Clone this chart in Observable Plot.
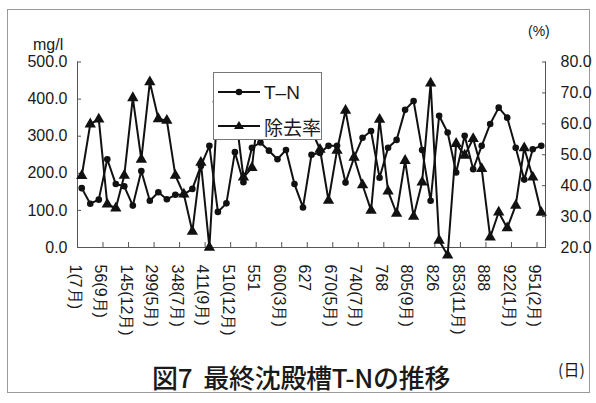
<!DOCTYPE html>
<html><head><meta charset="utf-8">
<script src="https://cdn.jsdelivr.net/npm/d3@7"></script>
<script src="https://cdn.jsdelivr.net/npm/@observablehq/plot@0.6"></script>
<style>
body{margin:0;background:#fff;}
#wrap{position:relative;width:596px;height:403px;background:#fff;overflow:hidden;font-family:'Liberation Sans',Arial,sans-serif;color:#1a1a1a;}
#frame{position:absolute;left:7px;top:9px;width:581px;height:382px;border:1px solid #9a9a9a;}
#chart{position:absolute;left:0;top:0;}
.lab{position:absolute;white-space:nowrap;line-height:1;}
#legend{position:absolute;left:213px;top:72px;width:107px;height:66px;border:1.5px solid #777;background:#fff;}
</style></head>
<body>
<div id="wrap">
  <div id="frame"></div>
  <div id="chart"></div>
  <div class="lab" style="left:33px;top:37px;font-size:16px;">mg/l</div>
  <div class="lab" style="left:528px;top:24px;font-size:14px;">(%)</div>
  <div id="legend">
    <svg width="107" height="66" style="position:absolute;left:0;top:0">
      <line x1="4" x2="46" y1="19" y2="19" stroke="#111" stroke-width="2"/>
      <circle cx="25" cy="19" r="3.3" fill="#111"/>
      <line x1="4" x2="46" y1="53" y2="53" stroke="#111" stroke-width="2"/>
      <path d="M25,48 L30,56 L20,56 Z" fill="#111"/>
    </svg>
    <div class="lab" style="left:50px;top:10px;font-size:19px;">T–N</div>
    <div class="lab" style="left:50px;top:44px;font-size:19px;font-family:'Noto Sans CJK JP';">除去率</div>
  </div>
  <div class="lab" style="left:152px;top:364px;font-size:26px;font-family:'Noto Sans CJK JP';font-weight:500;letter-spacing:-0.3px;">図7&nbsp;&nbsp;最終沈殿槽T-Nの推移</div>
  <div class="lab" style="left:558px;top:361px;font-size:16px;font-family:'Noto Sans CJK JP';">(日)</div>
</div>
<script>
const labels = ["1(7月)","56(9月)","145(12月)","299(5月)","348(7月)","411(9月)","510(12月)","551","600(3月)","627","670(5月)","740(7月)","768","805(9月)","826","853(11月)","888","922(1月)","951(2月)"];
const tn = [160,118,129,238,171,165,113,206,126,149,130,142,143,158,220,274,96,119,257,176,269,283,261,238,263,171,108,250,255,274,274,175,242,296,314,188,269,290,371,395,263,126,355,310,202,301,211,274,333,377,350,269,183,265,274];
const rate = [43.2,59.9,61.5,34.0,32.7,43.3,68.4,48.5,73.5,61.6,61.1,43.3,37.2,25.2,47.5,20.0,68,62,65,42.7,45.8,70,60,66,58,70,63,58,51.7,35.2,51.4,64.3,49.1,40.2,32.0,61.4,38.2,31.0,48.1,30.0,41.1,73.1,22.3,17.5,53.6,49.8,55.2,45.5,23.3,31.4,26.3,33.6,52.2,42.7,31.3];
const leftTicks = [0,100,200,300,400,500];
const rightTicks = [20,30,40,50,60,70,80];
const rightMin = 20, rightMax = 80;

const data = tn.map((v,i)=>({i, tn:v, rate:rate[i]}));
const toY = r => (r - rightMin) / (rightMax - rightMin) * 500;
const n = tn.length;

const chart = Plot.plot({
  width:596, height:350,
  marginLeft:77, marginRight:51, marginTop:61.5, marginBottom:103,
  x:{domain:[-0.5, n-0.5], axis:null},
  y:{domain:[0,500], axis:null},
  style:{fontFamily:"'Liberation Sans', Arial, sans-serif", fontSize:"16px", color:"#1a1a1a", background:"transparent", overflow:"visible"},
  marks:[
    Plot.ruleY([0], {stroke:"#555"}),
    Plot.ruleX([-0.5, n-0.5], {stroke:"#555", y1:0, y2:500}),
    Plot.axisY({anchor:"left", label:null, ticks:leftTicks, tickFormat:d=>d.toFixed(1), tickSize:-4, tickPadding:14, stroke:"#555", fontSize:16}),
    Plot.axisY({anchor:"right", label:null, ticks:rightTicks.map(toY), tickFormat:d=>(rightMin + d/500*(rightMax-rightMin)).toFixed(1), tickSize:-4, tickPadding:19, stroke:"#555", fontSize:16}),
    Plot.axisX({label:null, ticks:d3.range(-0.5, n-1, 3), tickFormat:()=>"", tickSize:-5, stroke:"#555"}),
    Plot.axisX({label:null, ticks:d3.range(0, n, 3), tickFormat:i=>labels[i/3], tickSize:0, tickPadding:17, tickRotate:90, dx:-7, fontSize:16}),
    Plot.line(data, {x:"i", y:"tn", stroke:"#111", strokeWidth:2}),
    Plot.line(data, {x:"i", y:d=>toY(d.rate), stroke:"#111", strokeWidth:2}),
    Plot.dot(data, {x:"i", y:"tn", r:3.3, fill:"#111", symbol:"circle"}),
    Plot.dot(data, {x:"i", y:d=>toY(d.rate), r:4.2, fill:"#111", symbol:"triangle"})
  ]
});
document.getElementById("chart").appendChild(chart);
</script>
</body></html>
